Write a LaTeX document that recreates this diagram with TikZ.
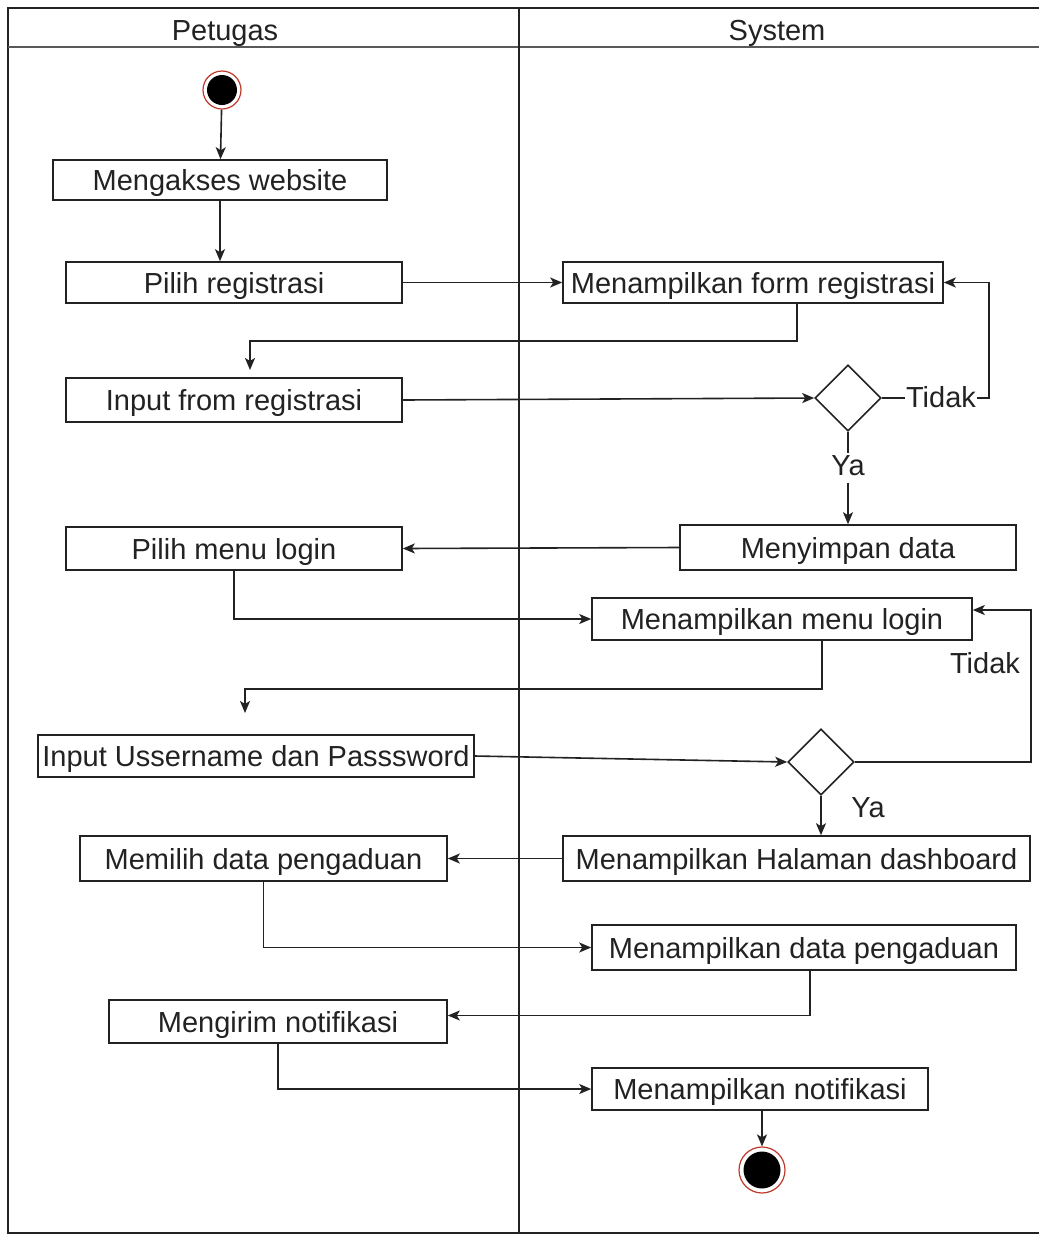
\documentclass[tikz,border=0pt]{standalone}
\usepackage{fontspec}
\setmainfont{Liberation Sans}
\usetikzlibrary{arrows.meta,shapes.geometric,calc}
\definecolor{ink}{HTML}{222222}
\definecolor{ringred}{HTML}{C0392B}
\begin{document}
\begin{tikzpicture}[x=1pt,y=-1pt,
  every node/.style={font=\fontsize{29}{33}\selectfont, text=ink, text height=21pt, text depth=6pt},
  box/.style={draw=ink, line width=1.6pt, fill=white, inner sep=0pt, text depth=0pt},
  decision/.style={draw=ink, line width=1.6pt, diamond, minimum width=66pt, minimum height=66pt, inner sep=0pt, aspect=1, text height=, text depth=},
  lbl/.style={inner sep=1pt},
  flow/.style={draw=ink, line width=1.6pt},
  arr/.style={flow, -{Stealth[length=12pt,width=10pt,inset=3pt]}},
  lane/.style={draw=ink, line width=1.6pt}]
\useasboundingbox (0,0) rectangle (1039,1235);
\fill[white] (0,0) rectangle (1039,1235);

% swimlanes
\draw[lane] (1039,8) -- (8,8) -- (8,1233) -- (1039,1233);
\draw[lane, draw=ink!75, line width=2pt] (8,47) -- (1039,47);
\draw[lane] (519,8) -- (519,1233);
\node[text depth=0pt] (hpet) at (225,30) {Petugas};
\node[text depth=0pt] (hsys) at (777,30) {System};

% start and end states
\node[circle, draw=ringred, line width=1.2pt, fill=white, minimum size=38pt, inner sep=0pt, text height=, text depth=] (start) at (222,90) {};
\fill[black] (start) circle (15pt);
\node[circle, draw=ringred, line width=1.2pt, fill=white, minimum size=46pt, inner sep=0pt, text height=, text depth=] (end) at (762,1170) {};
\fill[black] (end) circle (18.5pt);

% actions
\node[box, minimum width=334pt, minimum height=40pt] (web) at (220,180) {Mengakses website};
\node[box, minimum width=336pt, minimum height=41pt] (reg) at (234,282.5) {Pilih registrasi};
\node[box, minimum width=380pt, minimum height=41pt] (form) at (753,282.5) {Menampilkan form registrasi};
\node[box, minimum width=336pt, minimum height=44pt] (inreg) at (234,400) {Input from registrasi};
\node[decision] (d1) at (848,398) {};
\node[box, minimum width=336pt, minimum height=45pt] (simpan) at (848,547.5) {Menyimpan data};
\node[box, minimum width=336pt, minimum height=43pt] (login) at (234,548.5) {Pilih menu login};
\node[box, minimum width=380pt, minimum height=42pt] (menu) at (782,619) {Menampilkan menu login};
\node[box, minimum width=436pt, minimum height=42pt] (user) at (256,756) {Input Ussername dan Passsword};
\node[decision] (d2) at (821,762) {};
\node[box, minimum width=467pt, minimum height=45pt] (dash) at (796.5,858.5) {Menampilkan Halaman dashboard};
\node[box, minimum width=367pt, minimum height=45pt] (pilihdata) at (263.5,858.5) {Memilih data pengaduan};
\node[box, minimum width=424pt, minimum height=45pt] (tampildata) at (804,947.5) {Menampilkan data pengaduan};
\node[box, minimum width=338pt, minimum height=43pt] (kirim) at (278,1021.5) {Mengirim notifikasi};
\node[box, minimum width=336pt, minimum height=42pt] (notif) at (760,1089) {Menampilkan notifikasi};

% guard labels
\node[lbl] (tidak1) at (941,400) {Tidak};
\node[lbl] (ya1) at (848,468) {Ya};
\node[lbl] (tidak2) at (985,666) {Tidak};
\node[lbl] (ya2) at (868,810) {Ya};

% free ends of the return flows
\coordinate (c1) at (250,370);
\coordinate (c2) at (245,713);

% flows
\draw[arr] (start) -- (web);
\draw[arr] (web.south) -- (web.south |- reg.north);
\draw[arr] (reg.east) -- (form.west);
\draw[arr] ([xshift=44pt]form.south) -- ++(0,37) -| (c1);
\draw[arr] (inreg.east) -- (d1.west);
\draw[flow] (d1.east) -- (d1.east -| tidak1.west);
\draw[arr] (tidak1.east |- d1.east) -| ([xshift=45pt]form.east) -- (form.east);
\draw[flow] (d1.south) -- (ya1.north);
\draw[arr] (ya1.south) -- (simpan.north);
\draw[arr] (simpan.west) -- (login.east);
\draw[arr] (login.south) |- (menu.west);
\draw[arr] ([xshift=40pt]menu.south) -- ++(0,48) -| (c2);
\draw[arr] (user.east) -- (d2.west);
\draw[arr] (d2.east) -| ([xshift=58pt,yshift=9pt]menu.east) -- ([yshift=9pt]menu.east);
\draw[arr] (d2.south) -- (d2.south |- dash.north);
\draw[arr] (dash.west) -- (pilihdata.east);
\draw[arr] (pilihdata.south) |- (tampildata.west);
\draw[arr] ([xshift=6pt]tampildata.south) |- ([yshift=6pt]kirim.east);
\draw[arr] (kirim.south) |- (notif.west);
\draw[arr] ([xshift=2pt]notif.south) -- (end.north);
\end{tikzpicture}
\end{document}
